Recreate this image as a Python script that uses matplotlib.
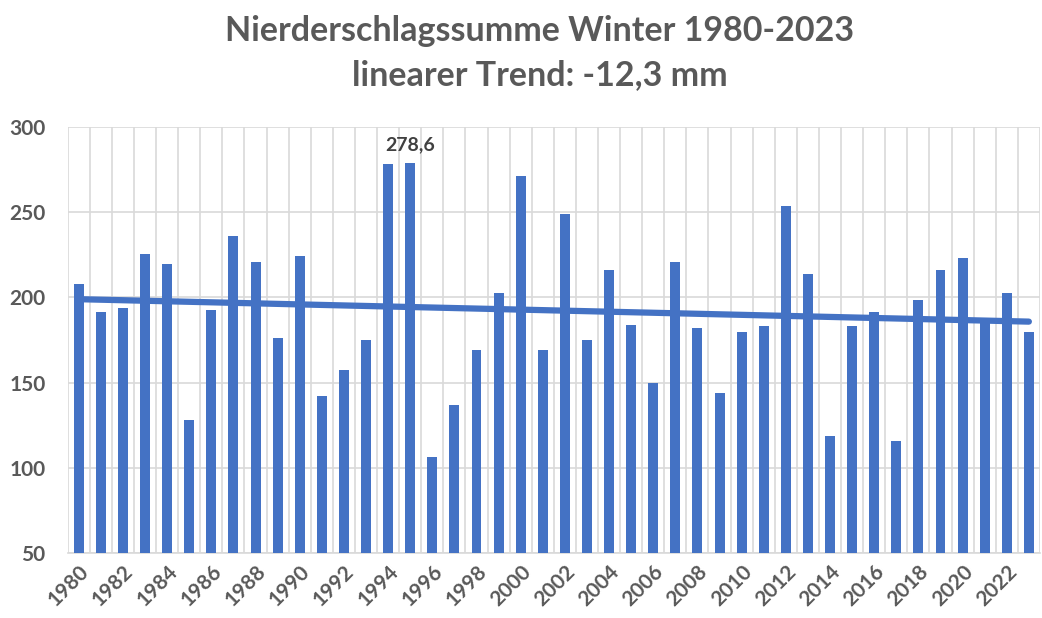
#Importing necessary libraries
import matplotlib.pyplot as plt
import numpy as np

#Winter precipitation sums (mm)
years = list(range(1980, 2024))
precip = [207.6, 191.2, 193.6, 225.2, 219.3, 127.9, 192.4, 235.7, 220.5, 176.0,
          224.0, 142.0, 157.2, 174.8, 278.0, 278.6, 106.6, 137.1, 169.0, 202.7,
          270.9, 169.0, 248.6, 174.8, 215.8, 184.0, 150.0, 220.5, 181.8, 144.1,
          179.5, 183.0, 253.3, 213.5, 118.4, 183.0, 191.2, 116.0, 198.2, 215.8,
          222.9, 185.0, 202.7, 179.5]
tick_years = years[::2]
label_year = 1995

title = "Nierderschlagssumme Winter 1980-2023\nlinearer Trend: -12,3 mm"
blue = "#4472C4"
grey = "#595959"

plt.rcParams['font.family'] = ['Lato', 'DejaVu Sans']

fig = plt.figure(figsize=(10.42, 6.18), dpi=100)
ax = fig.add_axes([0.065, 0.105, 0.933, 0.69])

x = np.arange(len(years))
ax.bar(x, precip, width=0.45, color=blue, zorder=3)

#Linear trend via least squares
coef = np.polyfit(x, precip, 1)
ax.plot(x, np.polyval(coef, x), color=blue, lw=4.5, solid_capstyle='round', zorder=4)

#Data label over the highest bar
i = years.index(label_year)
ax.text(x[i], precip[i] + 6, f"{precip[i]:.1f}".replace('.', ','),
        ha='center', va='bottom', fontsize=14, fontweight='bold', color='#404040')

ax.set_ylim(50, 300)
ax.set_yticks(range(50, 301, 50))
ax.set_xlim(-0.5, len(years) - 0.5)

#Vertical gridlines at category boundaries
for b in np.arange(-0.5, len(years), 1.0):
    ax.axvline(b, color='#d9d9d9', lw=1.2, zorder=1)
ax.yaxis.grid(True, color='#d9d9d9', lw=1.2, zorder=1)
ax.set_axisbelow(True)

ax.set_xticks([years.index(y) for y in tick_years])
ax.set_xticklabels([str(y) for y in tick_years], rotation=45, ha='right',
                   rotation_mode='anchor')
ax.tick_params(axis='both', length=0, labelsize=15, labelcolor=grey)
for lab in ax.get_xticklabels() + ax.get_yticklabels():
    lab.set_fontweight('bold')
ax.tick_params(axis='x', pad=6)
ax.tick_params(axis='y', pad=16)

for s in ['top', 'right', 'left']:
    ax.spines[s].set_visible(False)
ax.spines['bottom'].set_color('#d9d9d9')
ax.spines['bottom'].set_linewidth(1.2)

fig.suptitle(title, fontsize=24.5, fontweight='bold', color=grey, x=0.518, y=0.975,
             linespacing=1.45)

fig.savefig("out.png", dpi=100)
